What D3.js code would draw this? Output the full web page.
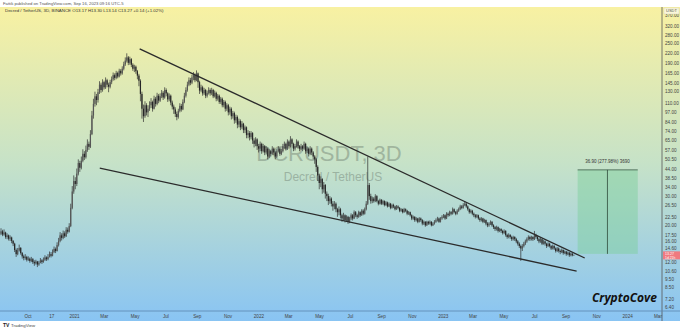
<!DOCTYPE html>
<html>
<head>
<meta charset="utf-8">
<script src="https://cdn.jsdelivr.net/npm/d3@7"></script>
<style>
  body { margin: 0; background: #fff; }
  svg { display: block; font-family: "Liberation Sans", Arial, sans-serif; }
</style>
</head>
<body>
<div id="chart"></div>
<script>
// 3D candles, first one opens on 2020-08-05, each row is [close, high, low]
var firstDate = new Date(2020, 7, 5);
var firstOpen = 17.2;

var ohlc2020 = [
  [17.8,18.6,16.9],[18.4,19.2,17.5],[17.6,18.8,17.2],[18.1,18.9,17.3],[17.0,18.3,16.6],
  [17.4,17.9,16.5],[16.6,17.6,16.2],[16.9,17.4,16.1],[16.1,17.1,15.6],[15.5,16.3,15.0],
  [14.2,15.7,13.8],[13.4,14.5,12.9],[14.1,14.6,13.2],[14.6,15.3,13.9],[13.6,14.8,13.3],
  [13.0,13.8,12.6],[12.7,13.3,12.3],[12.9,13.4,12.4],[12.4,13.1,12.1],[12.6,13.0,12.2],
  [12.2,12.8,11.9],[12.5,12.9,12.0],[12.0,12.7,11.7],[11.8,12.3,11.4],[12.1,12.4,11.6],
  [11.6,12.2,11.2],[11.9,12.2,11.4],[12.3,12.7,11.8],[12.0,12.5,11.7],[12.4,12.8,11.9],
  [12.8,13.2,12.2],[12.5,13.0,12.2],[12.9,13.4,12.3],[13.4,13.9,12.8],[13.1,13.8,12.8],
  [13.8,14.3,13.0],[14.4,14.9,13.6],[14.0,14.7,13.6],[15.2,15.8,13.9],[16.1,16.8,14.9],
  [17.4,18.2,15.8],[16.8,17.9,16.2],[17.9,18.6,16.5],[17.2,18.4,16.8],[18.8,19.5,17.0],
  [18.3,19.4,17.8],[19.8,20.6,18.1],[25.5,27.0,19.5],[32.0,34.5,25.0],[37.0,40.0,31.0]
];

var ohlc2021 = [
  [35.5,39,33],[41,44,34.5],[47.5,50,40],[44.5,49,42],[49,52,43.5],
  [54,57.5,48],[51.5,56,49.5],[57,60.5,50.5],[62,66,55.5],[59.5,64,57],
  [71,75,58.5],[92,98,70],[108,116,88],[120,128,104],[114,124,106],
  [127,133,110],[141,148,124],[131,145,126],[146,152,128],[136,149,132],
  [150,156,133],[141,153,136],[137,145,127],[146,151,134],[152,158,142],
  [161,167,149],[155,165,150],[166,171,152],[158,169,154],[171,176,156],
  [165,175,160],[176,182,162],[187,194,172],[197,206,183],[206,218,192],
  [191,210,185],[201,208,186],[186,204,180],[176,190,171],[181,186,168],
  [170,184,164],[160,173,152],[149,164,138],[124,152,112],[101,128,88],
  [91,107,84],[106,112,89],[96,109,92],[101,106,90],[106,112,98],
  [111,117,102],[101,113,97],[116,121,100],[108,119,104],[121,126,106],
  [113,124,109],[120,125,111],[126,131,117],[118,129,114],[131,136,116],
  [125,134,120],[115,127,111],[121,125,112],[110,123,106],[104,113,100],
  [100,107,94],[94,103,90],[90,97,86],[98,101,88],[105,109,96],
  [100,108,97],[111,115,99],[121,126,109],[131,136,118],[141,147,128],
  [150,156,138],[145,155,140],[156,162,142],[161,168,150],[150,165,146],
  [165,172,148],[146,167,135],[130,149,124],[136,141,127],[125,139,121],
  [131,135,122],[121,133,117],[126,130,118],[131,136,123],[125,134,121],
  [131,135,122],[120,133,117],[126,130,118],[116,128,112],[121,124,113],
  [111,123,108],[116,119,108],[106,118,103],[111,114,103],[101,113,97],
  [106,109,98],[96,108,92],[101,104,93],[91,103,87],[95,98,88],
  [86,97,82],[90,93,83],[81,92,77],[85,88,78],[78,87,75],
  [82,85,76],[75,83,72],[78,80,72],[70,79,67],[72,75,67],
  [68,74,65],[72,74,66],[65,73,62],[62,67,59],[66,68,60],
  [60,67,57],[58,62,55]
];

var ohlc2022 = [
  [62,64,56],[56,63,54],[60,62,55],[55,61,53],[58,60,53.5],
  [52,59,50],[56,57.5,51],[54,57,52],[58,60,53],[55,59,53],
  [52,56,50],[56,57.5,51],[58,60,55],[54,59,52.5],[56,58,53],
  [60,62,55],[62,64,58],[58,63,56.5],[64,66,57],[60,65,58],
  [66,69,59],[62,67,60],[58,63,56],[60,62,56.5],[64,66,59],
  [60,65,58],[58,61,56],[60,62,57],[58,61,56],[62,64,57],
  [56,63,54],[58,59.5,54.5],[54,59,52],[58,60,53],[55,59,53],
  [52,56,50],[50,53,47],[45,51,42],[40,46,37],[36,41,33],
  [38,39.5,34],[33,38.5,31],[35,36.5,31.5],[31,35.5,29],[30,32,28],
  [28,31,26.5],[29,30,27],[27,29.5,26],[26,28,24.5],[27,28,25],
  [25,27.5,24],[24,25.5,22.5],[25,26,23],[23,25.5,22],[22,23.5,21],
  [23,23.8,21.5],[21.5,23.3,20.8],[22.5,23,21],[21,22.8,20.4],[22,22.5,20.6],
  [23,23.6,21.5],[22,23.4,21.4],[24,24.6,21.8],[23,24.4,22.4],[22.5,23.5,21.9],
  [24,24.5,22.2],[23,24.3,22.5],[24.5,25,22.8],[23.5,25,23],[25,25.6,23.2],
  [27,28,24.6],[35,52,26.5],[30,36,28.5],[28,31,27],[29,29.8,27.2],
  [28,29.6,27.4],[30,30.8,27.6],[28,30.4,27.5],[27,28.5,26.4],[28.5,29,26.7],
  [27,28.8,26.5],[28,28.5,26.6],[26.5,28.3,26],[27.5,28,26.2],[26,27.8,25.6],
  [27,27.5,25.8],[25.5,27.3,25],[26.5,27,25.2],[26,27,25.4],[25,26.3,24.6],
  [26,26.5,24.8],[25.5,26.4,25],[24.5,25.8,24],[25,25.4,24.1],[24,25.2,23.6],
  [25,25.5,23.8],[24.5,25.3,24],[23.5,24.8,23],[24,24.4,23.1],[23,24.2,22.6],
  [22,23.3,21.5],[22.5,22.9,21.6],[21.5,22.7,21],[22,22.4,21.1],[21,22.2,20.6],
  [22,22.4,20.8],[21.5,22.3,21],[20.5,21.8,20],[21,21.4,20.1],[20,21.2,19.6],
  [21,21.3,19.8],[20.5,21.3,20.1],[21,21.4,20.2],[20,21.2,19.7],[20.5,20.9,19.8],
  [21,21.5,20.2],[21.5,22,20.7],[22,22.5,21.1],[21,22.3,20.7],[22,22.4,20.8],
  [22.5,23,21.6]
];

var ohlc2023 = [
  [23,23.4,22.1],[22,23.3,21.6],[23.5,24,21.8],[23,23.9,22.5],[24,24.5,22.7],
  [23.5,24.4,23],[25,25.6,23.2],[24,25.3,23.6],[23.5,24.4,23],[24.5,25,23.2],
  [25,25.6,24.1],[26,26.6,24.7],[25.5,26.5,25],[26.5,27.2,25.2],[27,28,26.1],
  [26,27.5,25.5],[25,26.4,24.5],[24,25.3,23.5],[24.5,25,23.6],[23.5,24.8,23],
  [23,23.9,22.4],[22.5,23.4,22],[23,23.4,22.1],[22,23.2,21.6],[21.5,22.4,21],
  [22,22.4,21.1],[21,22.2,20.6],[21.5,21.9,20.7],[20.5,21.7,20],[20,20.9,19.5],
  [20.5,20.9,19.6],[21,21.4,20.1],[20,21.2,19.6],[19.5,20.3,19],[19,19.8,18.5],
  [19.5,19.9,18.6],[18.5,19.7,18.1],[19,19.3,18.2],[18.5,19.2,18],[18,18.8,17.6],
  [18.5,18.9,17.7],[17.5,18.7,17.1],[17,17.8,16.6],[17.5,17.9,16.7],[17,17.7,16.6],
  [16.5,17.3,16.1],[17,17.3,16.2],[16.5,17.2,16.1],[16,16.8,15.6],[15.5,16.3,15.1],
  [15,15.8,14.6],[14.5,15.3,12.2],[15,15.4,14],[15.5,15.9,14.7],[16,16.4,15.2],
  [16.5,16.9,15.7],[17,17.4,16.2],[16.5,17.3,16.1],[17,17.3,16.2],[16.5,17.2,16.1],
  [17.5,18.5,16.3],[17,17.8,16.6],[16.5,17.3,16.1],[16,16.8,15.6],[16.5,16.8,15.7],
  [15.5,16.6,15.2],[16,16.3,15.3],[15.5,16.2,15.1],[15,15.7,14.6],[15.5,15.8,14.8],
  [15,15.7,14.7],[14.5,15.2,14.2],[15,15.3,14.3],[14.5,15.2,14.2],[14,14.7,13.7],
  [14.5,14.8,13.8],[14,14.7,13.7],[13.8,14.3,13.4],[14.2,14.5,13.6],[13.6,14.3,13.3],
  [13.9,14.1,13.4],[13.4,14,13.1],[13.7,13.9,13.2],[13.2,13.8,12.9],[13.5,13.7,13],
  [13.17,13.6,13],[13.27,13.3,13.14]
];

// axis labels
var yTickValues = [370, 320, 280, 250, 220, 190, 165, 145, 130, 110, 97, 84, 74, 65, 57, 50.5,
  44, 38.5, 34, 30, 26.5, 22.5, 20, 17.5, 16, 14.6, 12, 10.6, 9.5, 8.5, 7.2, 6.4];
var xTickDates = ["2020-10-01", "2020-11-17", "2021-01-01", "2021-03-01", "2021-05-01", "2021-07-01",
  "2021-09-01", "2021-11-01", "2022-01-01", "2022-03-01", "2022-05-01", "2022-07-01", "2022-09-01",
  "2022-11-01", "2023-01-01", "2023-03-01", "2023-05-01", "2023-07-01", "2023-09-01", "2023-11-01",
  "2024-01-01", "2024-03-01"];
var xTickLabels = ["Oct", "17", "2021", "Mar", "May", "Jul", "Sep", "Nov", "2022", "Mar", "May", "Jul",
  "Sep", "Nov", "2023", "Mar", "May", "Jul", "Sep", "Nov", "2024", "Mar"];

// drawings: [date, price]
var upperTrend = [["2021-05-11", 232], ["2023-10-09", 12.7]];
var lowerTrend = [["2021-02-21", 44.3], ["2023-09-23", 10.6]];
var rangeBox = { from: "2023-09-25", to: "2024-01-22", mid: "2023-11-23", low: 13.45, high: 43.2 };
var rangeLabel = "36.90 (277.98%) 3690";
var lastPrice = 13.27;

var width = 680, height = 330;
var plot = { left: 0, right: 662, top: 7, bottom: 311 };
var parse = d3.timeParse("%Y-%m-%d");

// build the candle table
var rows = ohlc2020.concat(ohlc2021, ohlc2022, ohlc2023);
var candles = rows.map(function (r, i) {
  return {
    date: d3.timeHour.offset(d3.timeDay.offset(firstDate, 3 * i), 36),
    open: i === 0 ? firstOpen : rows[i - 1][0],
    close: r[0], high: r[1], low: r[2]
  };
});

var svg = d3.select("#chart").append("svg")
  .attr("width", width).attr("height", height);

var defs = svg.append("defs");
var grad = defs.append("linearGradient").attr("id", "bg")
  .attr("x1", 0).attr("y1", 0).attr("x2", 0).attr("y2", 1);
grad.append("stop").attr("offset", "0%").attr("stop-color", "#f8f1a2");
grad.append("stop").attr("offset", "50%").attr("stop-color", "#c6e2c8");
grad.append("stop").attr("offset", "100%").attr("stop-color", "#89c4f3");
defs.append("clipPath").attr("id", "clip").append("rect")
  .attr("x", plot.left).attr("y", plot.top)
  .attr("width", plot.right - plot.left).attr("height", plot.bottom - plot.top);

svg.append("rect").attr("x", 0).attr("y", plot.top).attr("width", width)
  .attr("height", 321 - plot.top).attr("fill", "url(#bg)");

var x = d3.scaleTime()
  .domain([new Date(2020, 7, 7, 12), new Date(2024, 2, 10)])
  .range([plot.left, plot.right]);
var y = d3.scaleLog()
  .domain([6.085, 414.8])
  .range([plot.bottom, plot.top]);

// watermark
svg.append("text").attr("x", 329).attr("y", 161).attr("text-anchor", "middle")
  .attr("font-size", 22).attr("fill", "#5d6b60").attr("opacity", 0.38)
  .text("DCRUSDT, 3D");
svg.append("text").attr("x", 333).attr("y", 181).attr("text-anchor", "middle")
  .attr("font-size", 12).attr("fill", "#5d6b60").attr("opacity", 0.38)
  .text("Decred / TetherUS");

var g = svg.append("g").attr("clip-path", "url(#clip)");

// candles
var cg = g.append("g");
cg.selectAll("line.wick").data(candles).enter().append("line")
  .attr("class", "wick")
  .attr("x1", function (d) { return x(d.date); })
  .attr("x2", function (d) { return x(d.date); })
  .attr("y1", function (d) { return y(d.high); })
  .attr("y2", function (d) { return y(d.low); })
  .attr("stroke", "#2e2e2e").attr("stroke-width", 0.7);
cg.selectAll("rect.body").data(candles).enter().append("rect")
  .attr("class", "body")
  .attr("x", function (d) { return x(d.date) - 0.6; })
  .attr("width", 1.2)
  .attr("y", function (d) { return y(Math.max(d.open, d.close)); })
  .attr("height", function (d) { return Math.max(0.6, Math.abs(y(d.open) - y(d.close))); })
  .attr("fill", function (d) { return d.close >= d.open ? "#555" : "#262626"; });

// trend lines
var line = d3.line()
  .x(function (d) { return x(parse(d[0])); })
  .y(function (d) { return y(d[1]); });
[upperTrend, lowerTrend].forEach(function (t) {
  g.append("path").attr("d", line(t)).attr("fill", "none")
    .attr("stroke", "#2b2b2b").attr("stroke-width", 1.3);
});

// price range box
var bx0 = x(parse(rangeBox.from)), bx1 = x(parse(rangeBox.to)), bxm = x(parse(rangeBox.mid));
var by0 = y(rangeBox.high), by1 = y(rangeBox.low);
g.append("rect").attr("x", bx0).attr("y", by0).attr("width", bx1 - bx0).attr("height", by1 - by0)
  .attr("fill", "#79cf9a").attr("opacity", 0.45);
g.append("line").attr("x1", bx0).attr("x2", bx1).attr("y1", by0).attr("y2", by0)
  .attr("stroke", "#3c5a48").attr("stroke-width", 0.8);
g.append("line").attr("x1", bxm).attr("x2", bxm).attr("y1", by0).attr("y2", by1)
  .attr("stroke", "#2f4a3a").attr("stroke-width", 0.8);
svg.append("text").attr("x", bxm).attr("y", by0 - 7).attr("text-anchor", "middle")
  .attr("font-size", 4.5).attr("fill", "#333").text(rangeLabel);

// y axis on the right
var yAxis = svg.append("g").attr("transform", "translate(" + plot.right + ",0)")
  .call(d3.axisRight(y).tickValues(yTickValues).tickFormat(d3.format(".2f")).tickSize(0).tickPadding(3));
yAxis.select(".domain").attr("stroke", "#555").attr("stroke-width", 0.8)
  .attr("d", "M0," + plot.top + "V321");
yAxis.selectAll(".tick text").attr("font-size", 4.6).attr("fill", "#444")
  .attr("font-family", "Liberation Sans, Arial, sans-serif");

// x axis
var xAxis = svg.append("g").attr("transform", "translate(0," + plot.bottom + ")")
  .call(d3.axisBottom(x).tickValues(xTickDates.map(parse))
    .tickFormat(function (d, i) { return xTickLabels[i]; }).tickSize(0).tickPadding(4));
xAxis.select(".domain").attr("stroke", "#5b86b0").attr("stroke-width", 0.8)
  .attr("d", "M0,0H" + width);
xAxis.selectAll(".tick text").attr("font-size", 4.6).attr("fill", "#444")
  .attr("font-family", "Liberation Sans, Arial, sans-serif");

// last price label
var py = y(lastPrice);
svg.append("rect").attr("x", plot.right + 1).attr("y", py - 3.5).attr("width", 17).attr("height", 8)
  .attr("fill", "#f07a80");
svg.append("text").attr("x", plot.right + 3).attr("y", py + 0.2).attr("font-size", 3.6)
  .attr("fill", "#fff").text(d3.format(".2f")(lastPrice));
svg.append("text").attr("x", plot.right + 3).attr("y", py + 3.9).attr("font-size", 3.4)
  .attr("fill", "#fff").text("1d 21h");

// USDT tag
svg.append("rect").attr("x", plot.right + 2).attr("y", 8).attr("width", 15).attr("height", 6)
  .attr("fill", "#fbf7d8").attr("stroke", "#bbb").attr("stroke-width", 0.3);
svg.append("text").attr("x", plot.right + 9.5).attr("y", 12.4).attr("text-anchor", "middle")
  .attr("font-size", 4).attr("fill", "#555").text("USDT");

// header texts
svg.append("text").attr("x", 3).attr("y", 4.5).attr("font-size", 4.2).attr("fill", "#555")
  .text("Fattik published on TradingView.com, Sep 16, 2023 09:16 UTC-5");
svg.append("text").attr("x", 5).attr("y", 12).attr("font-size", 4.4).attr("fill", "#333")
  .text("Decred / TetherUS, 3D, BINANCE  O13.17  H13.30  L13.14  C13.27  +0.14 (+1.02%)");

// signature
svg.append("text").attr("x", 592).attr("y", 302).attr("font-size", 12)
  .attr("font-weight", "bold").attr("font-style", "italic").attr("fill", "#111")
  .attr("font-family", "Open Sans, Liberation Sans, sans-serif")
  .text("CryptoCove");

// footer logo
svg.append("text").attr("x", 3).attr("y", 327).attr("font-size", 5).attr("font-weight", "bold")
  .attr("fill", "#222").text("TV");
svg.append("text").attr("x", 11).attr("y", 327).attr("font-size", 4.4).attr("fill", "#444")
  .text("TradingView");
</script>
</body>
</html>
